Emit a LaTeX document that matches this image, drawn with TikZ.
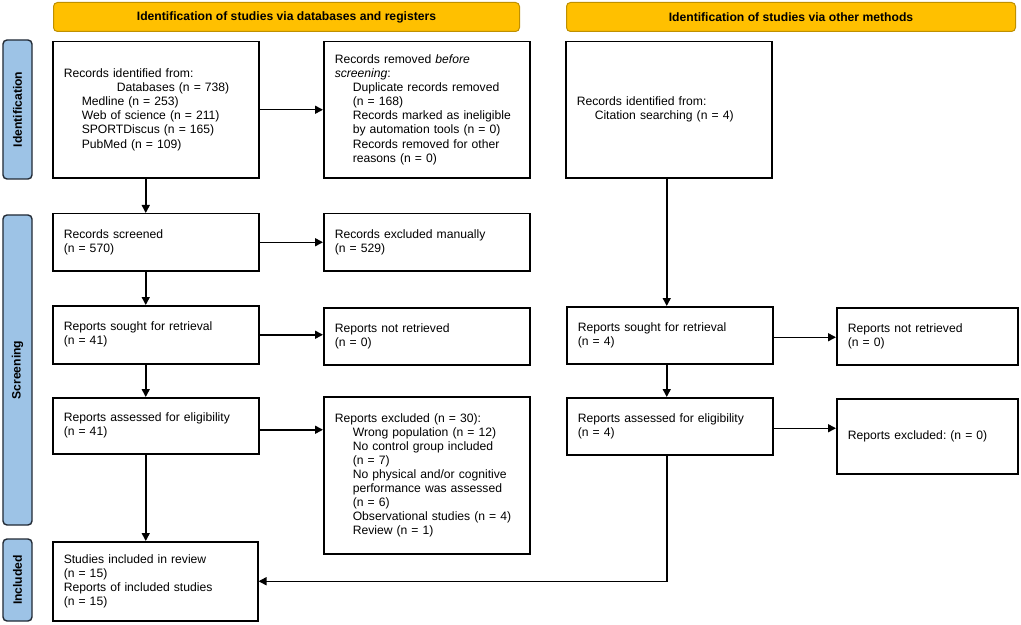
\documentclass[tikz,border=0pt]{standalone}
\usepackage{fontspec}
\setmainfont{Liberation Sans}
\usetikzlibrary{arrows.meta,calc}
\definecolor{hdrfill}{HTML}{FFC000}
\definecolor{hdrline}{HTML}{BF9000}
\definecolor{bandfill}{HTML}{9DC3E6}
\definecolor{bandline}{HTML}{222A35}
\frenchspacing
\begin{document}
\frenchspacing
\begin{tikzpicture}[x=1bp,y=-1bp,
  box/.style={draw, line width=1.5bp, align=left, inner xsep=11bp, inner ysep=2bp,
    font=\fontsize{12.2}{14.1}\selectfont, anchor=north west},
  hdr/.style={draw=hdrline, fill=hdrfill, line width=1bp, rounded corners=4bp, inner sep=0pt,
    font=\fontsize{12.2}{14.1}\selectfont\bfseries, anchor=north west, minimum height=29bp},
  band/.style={draw=bandline, fill=bandfill, line width=1.4bp, rounded corners=4bp, inner sep=0pt,
    font=\fontsize{12.2}{14.1}\selectfont\bfseries, rotate=90, minimum height=29bp},
  arr/.style={line width=1.5bp, -{Triangle[length=8bp,width=8bp]}}
]
\useasboundingbox (0,0) rectangle (1021,625);

% headers
\node[hdr, minimum width=466bp] (h1) at (53,2) {Identification of studies via databases and registers};
\node[hdr, minimum width=449bp] (h2) at (566,2) {Identification of studies via other methods};

% side bands
\node[band, minimum width=139bp] (bid) at (17.5,109.5) {Identification};
\node[band, minimum width=310bp] (bsc) at (17.5,370) {Screening};
\node[band, minimum width=82bp] (bin) at (17.5,580) {Included};

% left column
\node[box, minimum width=206bp, text width=184bp, minimum height=136bp] (A) at (52,41)
 {Records identified from:\\
  \hspace*{53bp}Databases (n = 738)\\
  \hspace*{18bp}Medline (n = 253)\\
  \hspace*{18bp}Web of science (n = 211)\\
  \hspace*{18bp}SPORTDiscus (n = 165)\\
  \hspace*{18bp}PubMed (n = 109)};
\node[box, minimum width=206bp, text width=184bp, minimum height=136bp] (B) at (323,41)
 {Records removed \textit{before}\\
  \textit{screening}:\\
  \hspace*{18bp}Duplicate records removed\\
  \hspace*{18bp}(n = 168)\\
  \hspace*{18bp}Records marked as ineligible\\
  \hspace*{18bp}by automation tools (n = 0)\\
  \hspace*{18bp}Records removed for other\\
  \hspace*{18bp}reasons (n = 0)};
\node[box, minimum width=206bp, text width=184bp, minimum height=57bp] (scr) at (52,213)
 {Records screened\\(n = 570)};
\node[box, minimum width=206bp, text width=184bp, minimum height=57bp] (exm) at (323,213)
 {Records excluded manually\\(n = 529)};
\node[box, minimum width=206bp, text width=184bp, minimum height=58bp] (sL) at (52,305)
 {Reports sought for retrieval\\(n = 41)};
\node[box, minimum width=206bp, text width=184bp, minimum height=57bp] (nL) at (323,307)
 {Reports not retrieved\\(n = 0)};
\node[box, minimum width=206bp, text width=184bp, minimum height=56bp] (aL) at (52,397)
 {Reports assessed for eligibility\\(n = 41)};
\node[box, minimum width=206bp, text width=184bp, minimum height=157bp] (eL) at (323,396)
 {Reports excluded (n = 30):\\
  \hspace*{18bp}Wrong population (n = 12)\\
  \hspace*{18bp}No control group included\\
  \hspace*{18bp}(n = 7)\\
  \hspace*{18bp}No physical and/or cognitive\\
  \hspace*{18bp}performance was assessed\\
  \hspace*{18bp}(n = 6)\\
  \hspace*{18bp}Observational studies (n = 4)\\
  \hspace*{18bp}Review (n = 1)};
\node[box, minimum width=205bp, text width=183bp, minimum height=79bp] (inc) at (52,541)
 {Studies included in review\\(n = 15)\\Reports of included studies\\(n = 15)};

% right column
\node[box, minimum width=206bp, text width=184bp, minimum height=136bp] (C) at (565,41)
 {Records identified from:\\
  \hspace*{18bp}Citation searching (n = 4)};
\node[box, minimum width=206bp, text width=184bp, minimum height=57bp] (sR) at (566,306)
 {Reports sought for retrieval\\(n = 4)};
\node[box, minimum width=181bp, text width=159bp, minimum height=57bp] (nR) at (836,307)
 {Reports not retrieved\\(n = 0)};
\node[box, minimum width=206bp, text width=184bp, minimum height=57bp] (aR) at (566,397)
 {Reports assessed for eligibility\\(n = 4)};
\node[box, minimum width=181bp, text width=159bp, minimum height=75bp] (eR) at (836,398)
 {Reports excluded: (n = 0)};

% connectors left
\draw[arr] (A.east) -- (B.west);
\draw[arr] ([xshift=-10bp]A.south) -- ([xshift=-10bp]A.south |- scr.north);
\draw[arr] (scr.east) -- (scr.east -| exm.west);
\draw[arr] (sL.east) -- (sL.east -| nL.west);
\draw[arr] ([xshift=-10bp]scr.south) -- ([xshift=-10bp]scr.south |- sL.north);
\draw[arr] ([xshift=-10bp]sL.south) -- ([xshift=-10bp]sL.south |- aL.north);
\draw[arr] ([yshift=-4bp]aL.east) -- ([yshift=-4bp]aL.east -| eL.west);
\draw[arr] ([xshift=-10bp]aL.south) -- ([xshift=-10bp]aL.south |- inc.north);

% connectors right
\draw[arr] ([xshift=-2bp]C.south) -- ([xshift=-2bp]C.south |- sR.north);
\draw[arr] ([yshift=-2bp]sR.east) -- ([yshift=-2bp]sR.east -| nR.west);
\draw[arr] ([xshift=-3bp]sR.south) -- ([xshift=-3bp]sR.south |- aR.north);
\draw[arr] ([yshift=-2bp]aR.east) -- ([yshift=-2bp]aR.east -| eR.west);
\draw[arr] ([xshift=-3bp]aR.south) |- (inc.east);
\end{tikzpicture}
\end{document}
